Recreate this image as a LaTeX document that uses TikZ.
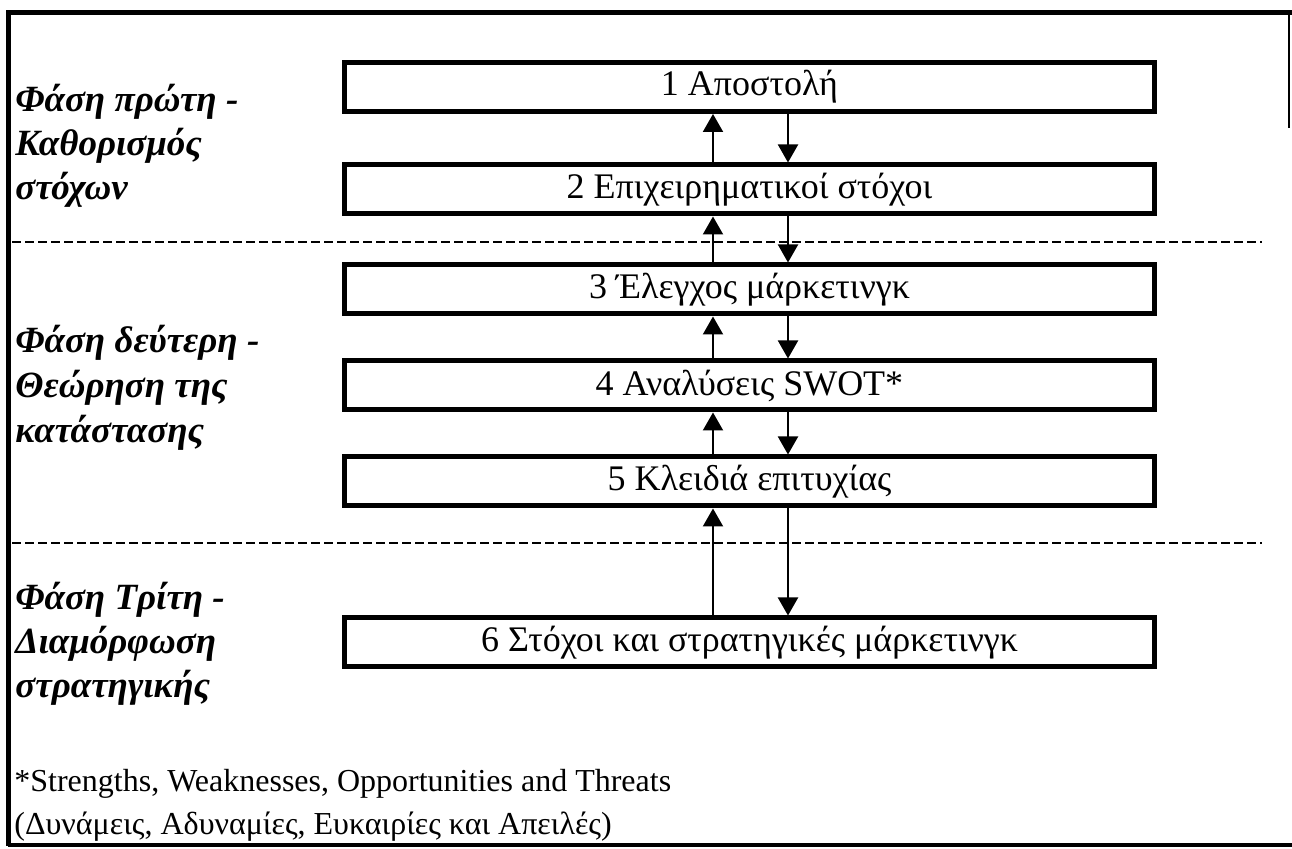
\documentclass[tikz,border=0pt]{standalone}
\usepackage{fontspec}
\setmainfont{Liberation Serif}
\usetikzlibrary{arrows.meta}
\begin{document}
\begin{tikzpicture}[x=0.5pt,y=-0.5pt,
  stagebox/.style={draw,line width=2.5pt,minimum width=405pt,minimum height=24.5pt,inner sep=0pt,font=\fontsize{18}{21}\selectfont},
  phase/.style={anchor=base west,inner sep=0pt,font=\fontsize{18.5}{21}\selectfont\bfseries\itshape},
  note/.style={anchor=base west,inner sep=0pt,font=\fontsize{16}{19}\selectfont},
  link/.style={line width=1pt,-{Triangle[width=10pt,length=9pt]}},
  sep/.style={line width=1pt,dash pattern=on 4.5pt off 2pt},
  frameline/.style={line width=2.5pt}]
\useasboundingbox (0,0) rectangle (1292,849);
% frame
\draw[frameline] (8,846) -- (8,13) -- (1292,13);
\draw[line width=1.8pt] (8,845) -- (1292,845);
\draw[line width=0.7pt] (1289,13) -- (1289,128);
% separators
\draw[sep] (12,242) -- (1262,242);
\draw[sep] (12,543) -- (1262,543);
% boxes
\node[stagebox] (b1) at (749.5,87) {1 Αποστολή};
\node[stagebox] (b2) at (749.5,189.5) {2 Επιχειρηματικοί στόχοι};
\node[stagebox] (b3) at (749.5,289.5) {3 Έλεγχος μάρκετινγκ};
\node[stagebox] (b4) at (749.5,385.5) {4 Αναλύσεις SWOT*};
\node[stagebox] (b5) at (749.5,481.5) {5 Κλειδιά επιτυχίας};
\node[stagebox] (b6) at (749.5,642.5) {6 Στόχοι και στρατηγικές μάρκετινγκ};
% arrows
\coordinate (ux) at (713,0);
\coordinate (dx) at (788,0);
\foreach \a/\b in {b1/b2,b2/b3,b3/b4,b4/b5,b5/b6}{
  \draw[link] (\b.north -| ux) -- (\a.south -| ux);
  \draw[link] (\a.south -| dx) -- (\b.north -| dx);
}
% phase labels
\node[phase] (p1a) at (15,112) {Φάση πρώτη -};
\node[phase] (p1b) at (15,156) {Καθορισμός};
\node[phase] (p1c) at (15,200) {στόχων};
\node[phase] (p2a) at (15,353) {Φάση δεύτερη -};
\node[phase] (p2b) at (15,398) {Θεώρηση της};
\node[phase] (p2c) at (15,443) {κατάστασης};
\node[phase] (p3a) at (15,610) {Φάση Τρίτη -};
\node[phase] (p3b) at (15,654) {Διαμόρφωση};
\node[phase] (p3c) at (15,698) {στρατηγικής};
% footnote
\node[note] (n1) at (14,792) {*Strengths, Weaknesses, Opportunities and Threats};
\node[note] (n2) at (14,835) {(Δυνάμεις, Αδυναμίες, Ευκαιρίες και Απειλές)};
\end{tikzpicture}
\end{document}
